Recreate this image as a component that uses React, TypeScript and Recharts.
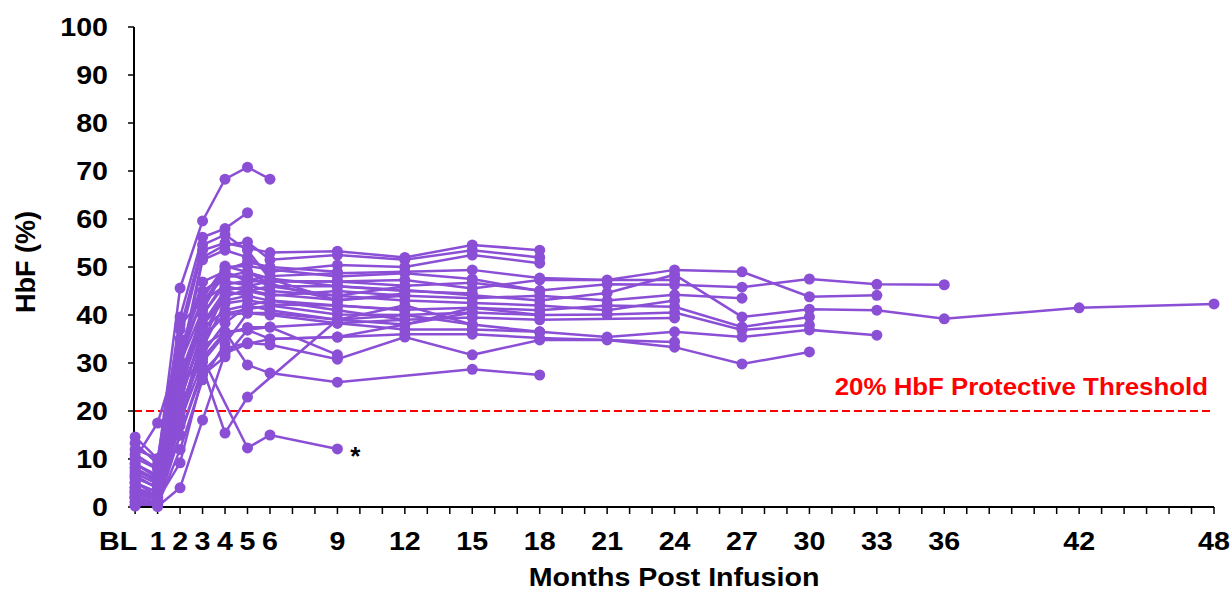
import { LineChart, Line, XAxis, YAxis, ReferenceLine, Label } from 'recharts';

const n = null;

// visit months (BL = 0) and the tick labels shown under the axis
const months = [0, 1, 2, 3, 4, 5, 6, 9, 12, 15, 18, 21, 24, 27, 30, 33, 36, 42, 48];
const monthLabels = ['BL', '1', '2', '3', '4', '5', '6', '9', '12', '15', '18', '21', '24', '27', '30', '33', '36', '42', '48'];
const yTicks = [0, 10, 20, 30, 40, 50, 60, 70, 80, 90, 100];
const threshold = 20;
const thresholdText = '20% HbF Protective Threshold';

// HbF (%) per patient, one value per visit month above (n = no sample)
const p01 = [5.2, 2.1, 27.5, 40.1, 46.3, 47.2, 48.1, 48.7, 49.0, 49.4, 47.7, 47.3, 49.4, 49.0, 43.8, 44.1];
const p02 = [8.1, 5.6, 30.4, 43.5, 50.2, 48.9, 47.6, 46.0, 45.2, 44.1, 43.0, 44.6, 48.4, 39.6, 41.2, 41.0, 39.2, 41.5, 42.3];
const p03 = [3.0, 1.8, 24.6, 38.2, 45.1, 46.0, 47.0, 47.0, 46.1, 46.7, 45.1, 46.4, 46.3, 45.8, 47.5, 46.4, 46.3];
const p04 = [6.3, 3.9, 22.1, 36.0, 44.0, 45.2, 44.3, 43.1, 44.0, 43.5, 44.0, 43.0, 44.2, 43.5];
const p05 = [1.8, 0.9, 19.8, 33.2, 42.4, 43.1, 42.2, 42.0, 41.1, 41.5, 41.0, 42.0, 41.7, 37.5, 39.6];
const p06 = [4.1, 2.2, 24.0, 35.1, 40.3, 41.2, 42.0, 40.1, 40.0, 40.5, 40.0, 40.1, 40.5, 36.9, 37.9];
const p07 = [1.2, 0.8, 17.9, 30.2, 36.0, 37.4, 37.5, 38.3, 37.0, 37.0, 36.5, 35.4, 36.5, 35.4, 36.9, 35.8];
const p08 = [2.2, 0.5, 15.0, 28.1, 33.0, 34.2, 33.8, 30.8, 35.4, 31.7, 34.8, 34.8, 33.3, 29.8, 32.3];
const p09 = [7.0, 4.8, 32.2, 46.9, 49.1, 47.0, 47.1, 47.0, 47.3, 45.5, 47.3, n, 47.3];
const p10 = [3.3, 2.0, 26.1, 40.0, 47.0, 46.2, 45.0, 44.0, 43.0, 42.5, 42.0, 41.0, 43.0];
const p11 = [9.0, 6.6, 27.2, 38.0, 43.0, 44.0, 43.0, 41.0, 39.0, 39.5, 39.0, n, 39.4];
const p12 = [5.0, 3.1, 21.0, 31.0, 36.5, 36.9, 35.0, 35.4, 36.0, 36.0, 35.2, n, 34.4];
const p13 = [10.2, 7.9, 35.0, 53.5, 55.0, 54.0, 53.0, 53.3, 52.0, 54.6, 53.5];
const p14 = [6.0, 4.2, 30.0, 52.0, 54.6, 55.2, 51.5, 52.5, 51.5, 53.5, 52.0];
const p15 = [4.1, 2.0, 28.0, 51.5, 53.5, 52.0, 49.0, 50.4, 50.0, 52.5, 50.8];
const p16 = [2.0, 1.0, 23.0, 42.0, 50.0, 50.2, 49.5, 48.0, 48.7, 47.5, 45.0];
const p17 = [8.2, 5.0, 33.0, 45.0, 48.0, 48.0, 46.0, 46.0, 45.0, 44.5];
const p18 = [3.0, 2.0, 22.0, 37.0, 41.0, 42.0, 41.0, 39.0, 42.0, 38.0];
const p19 = [1.0, 0.5, 19.0, 35.0, 40.0, 40.4, 40.4, 39.0, 38.0, 41.5, 40.0];
const p20 = [12.0, 10.1, 38.0, 43.0, 46.0, 45.0, 44.0, 45.0, 44.0];
const p21 = [5.0, 3.0, 20.0, 32.0, 38.3, 42.0, 43.0, 42.0, 41.0];
const p22 = [2.0, 1.0, 15.0, 29.0, 15.4, 22.9, n, 39.0, 40.0, 38.0, 36.5];
const p23 = [4.0, 2.0, 20.0, 33.5, 36.5, 29.6, 27.9, 26.0, n, 28.7, 27.5];
const p24 = [14.6, 10.0, 25.0, 31.0, n, 12.3, 15.0, 12.1];
const p25 = [13.3, 9.0, 45.6, 59.6, 68.3, 70.8, 68.3];
const p26 = [11.0, 8.0, 39.6, 56.2, 58.0, 61.3];
const p27 = [9.0, 6.0, 37.0, 54.6, 56.7, 53.5, 47.5, 43.0];
const p28 = [0.5, 0.3, 12.0, 26.5, 34.0, 40.4, 40.0, 38.3, 39.0];
const p29 = [3.5, 1.5, 9.2, 27.5, 31.3, 36.9, 37.5, 31.7];
const p30 = [0.2, 0.1, 4.0, 18.1, 32.0, 34.0, 35.0, 35.4, 38.0, 40.5];
const p31 = [6.5, 4.0, 25.0, 38.0, 44.0, 45.0, 46.0, 44.0, 46.0];
const p32 = [2.5, 1.5, 17.0, 34.0, 45.0, 44.0];
const p33 = [7.5, 5.5, 30.0, 41.0, 49.4, 51.0, 50.0, 49.0];
const p34 = [10.0, 17.5, 32.7, 43.0, 48.0, 49.0, 46.5, 43.0, 44.5];

const patients = [p01, p02, p03, p04, p05, p06, p07, p08, p09, p10, p11, p12, p13, p14, p15, p16, p17,
  p18, p19, p20, p21, p22, p23, p24, p25, p26, p27, p28, p29, p30, p31, p32, p33, p34];
const starPatient = 23; // p24, flagged with *

const PURPLE = '#8B4FD6';
const FONT = '"Liberation Sans", Arial, sans-serif';

const rows = months.map((m, i) => {
  const row: Record<string, number | null> = { m };
  patients.forEach((p, j) => { row['p' + j] = p[i] ?? null; });
  return row;
});

const allMonths = Array.from({ length: 49 }, (_, i) => i);

// Arial-style bold text, stretched a bit wider like the original
function Wide({ x, y, anchor = 'middle', size = 26, fill = '#000', dy = 0, children }: any) {
  return (
    <text transform={`translate(${x},${y}) scale(1.1,1)`} textAnchor={anchor} dy={dy}
      fontFamily={FONT} fontWeight={700} fontSize={size} fill={fill}>
      {children}
    </text>
  );
}

function XTick({ x, y, payload }: any) {
  const i = months.indexOf(payload.value);
  if (i < 0) return <g />;
  const label = monthLabels[i];
  return <Wide x={x + (label === 'BL' ? -17 : 0)} y={y} dy={34}>{label}</Wide>;
}

function YTick({ x, y, payload }: any) {
  return <Wide x={x} y={y} anchor="end" dy={9}>{payload.value}</Wide>;
}

function StarMark({ x, y, index }: any) {
  if (index !== months.indexOf(9)) return null;
  return <text x={x + 18} y={y + 16} textAnchor="middle" fontFamily={FONT} fontWeight={700} fontSize={26}>*</text>;
}

export default function App() {
  return (
    <div style={{ position: 'absolute', left: 0, top: 0 }}>
      <LineChart width={1231} height={592} data={rows} margin={{ top: 27, right: 17, left: 0, bottom: 0 }}>
        <XAxis dataKey="m" type="number" domain={[-0.05, 48]} ticks={allMonths} interval={0}
          tick={<XTick />} tickSize={7} tickMargin={2} height={85}
          axisLine={{ stroke: '#000', strokeWidth: 2 }} tickLine={{ stroke: '#000', strokeWidth: 1.5 }}>
          <Label content={({ viewBox }: any) => (
            <Wide x={viewBox.x + viewBox.width / 2} y={viewBox.y + 79} size={26}>Months Post Infusion</Wide>
          )} />
        </XAxis>
        <YAxis type="number" domain={[0, 100]} ticks={yTicks} interval={0} width={134}
          tick={<YTick />} tickSize={6} tickMargin={20}
          axisLine={{ stroke: '#000', strokeWidth: 2 }} tickLine={{ stroke: '#000', strokeWidth: 1.5 }}>
          <Label content={({ viewBox }: any) => {
            const cx = viewBox.x + 26;
            const cy = viewBox.y + viewBox.height / 2 - 5;
            return (
              <text transform={`translate(${cx + 9},${cy}) rotate(-90)`} textAnchor="middle"
                fontFamily={FONT} fontWeight={700} fontSize={27} fill="#000">HbF (%)</text>
            );
          }} />
        </YAxis>
        <ReferenceLine y={threshold} stroke="#FF0000" strokeWidth={2} strokeDasharray="8 4"
          label={({ viewBox }: any) => (
            <Wide x={viewBox.x + viewBox.width - 6} y={viewBox.y - 16} anchor="end" size={23.5} fill="#FF0000">
              {thresholdText}
            </Wide>
          )} />
        {patients.map((_, j) => (
          <Line key={j} type="linear" dataKey={'p' + j} stroke={PURPLE} strokeWidth={2.5}
            dot={{ r: 5.5, fill: PURPLE, stroke: PURPLE, strokeWidth: 0 }} activeDot={false}
            connectNulls isAnimationActive={false}
            label={j === starPatient ? <StarMark /> : false} />
        ))}
      </LineChart>
    </div>
  );
}
